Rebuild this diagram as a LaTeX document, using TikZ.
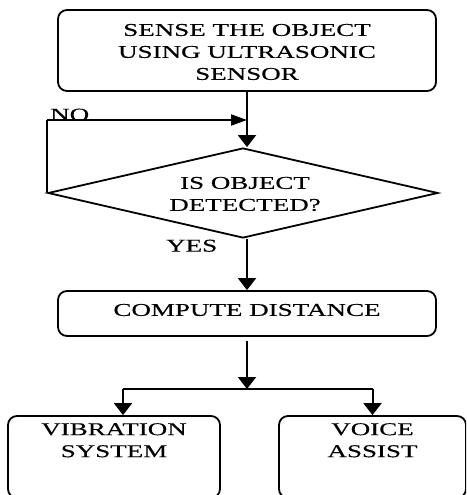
\documentclass[tikz,border=0pt]{standalone}
\usepackage{fontspec}
\setmainfont[FakeStretch=1.5,FakeBold=0.3]{Liberation Serif}
\usetikzlibrary{shapes.geometric,arrows.meta}
\begin{document}
\begin{tikzpicture}[x=1pt,y=1pt,
  font=\fontsize{18}{22}\selectfont,
  box/.style={draw, line width=1.8pt, rounded corners=9pt, inner sep=0pt},
  txt/.style={align=center, inner sep=0pt},
  conn/.style={line width=2pt},
  downarr/.style={conn, -{Triangle[width=18pt,length=12pt]}},
  rightarr/.style={conn, -{Triangle[width=11pt,length=16pt]}}]
\useasboundingbox (0,0) rectangle (466,-495);
\clip (0,0) rectangle (466,-495);
% top box
\node[box, minimum width=378pt, minimum height=81pt] (sense) at (247,-50.5) {};
\node[txt] (senset) at (247,-52) {SENSE THE OBJECT\\USING ULTRASONIC\\SENSOR};
% diamond
\node[diamond, draw, line width=1.8pt, minimum width=390pt, minimum height=90pt, inner sep=0pt] (dec) at (243,-193) {};
\node[txt] (dect) at (245,-194) {IS OBJECT\\DETECTED?};
% compute box
\node[box, minimum width=378pt, minimum height=45pt] (comp) at (247,-313.5) {};
\node[txt] (compt) at (247,-310) {COMPUTE DISTANCE};
% bottom boxes
\node[box, minimum width=212pt, minimum height=82pt] (vib) at (114,-457) {};
\node[txt, anchor=north] (vibt) at (114,-423) {VIBRATION\\SYSTEM};
\node[box, minimum width=187pt, minimum height=82pt] (voice) at (372.5,-457) {};
\node[txt, anchor=north] (voicet) at (372.5,-423) {VOICE\\ASSIST};
% coordinates
\coordinate (loopL) at (dec.west |- 0,-120);
\coordinate (loopR) at (247,-120);
\coordinate (split) at (247,-389);
\coordinate (splitL) at (123,-389);
\coordinate (splitR) at (372.5,-389);
% labels
\node[txt, anchor=south west] (no) at (50,-121) {NO};
\node[txt, anchor=south west] (yes) at (166,-252) {YES};
% connectors
\draw[downarr] (sense.south) -- (sense.south |- dec.north);
\draw[conn] (dec.west) -- (loopL);
\draw[rightarr] (loopL) -- (loopR);
\draw[downarr] (dec.south -| comp.north) -- (comp.north);
\draw[downarr] ([yshift=-4pt]comp.south) -- (split);
\draw[conn] (splitL) -- (splitR);
\draw[downarr] (splitL) -- (splitL |- vib.north);
\draw[downarr] (splitR) -- (voice.north);
\end{tikzpicture}
\end{document}
